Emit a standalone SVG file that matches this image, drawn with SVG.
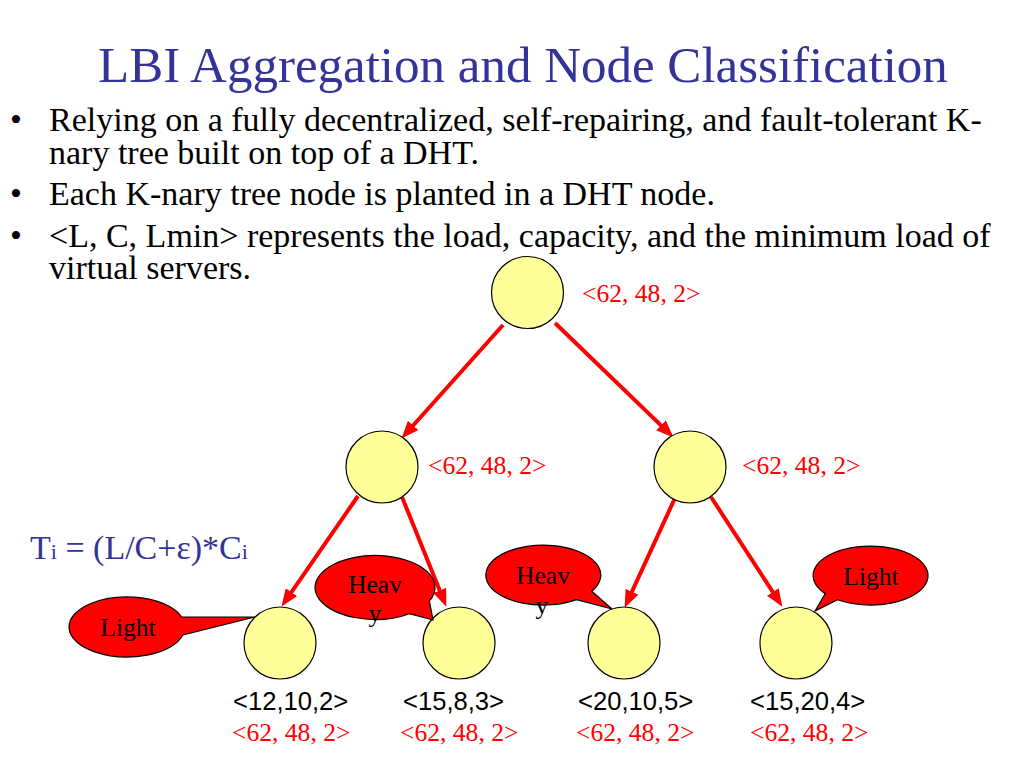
<svg xmlns="http://www.w3.org/2000/svg" width="1024" height="768" viewBox="0 0 1024 768">
<defs>
<style>
.title{font-family:"Liberation Serif","Times New Roman",serif;font-size:51px;fill:#333399}
.body{font-family:"Liberation Serif","Times New Roman",serif;font-size:34px;fill:#000}
.formula{font-family:"Liberation Serif","Times New Roman",serif;font-size:34px;fill:#333399}
.red{font-family:"Liberation Serif","Times New Roman",serif;font-size:25.6px;fill:#FF0000}
.blk{font-family:"Liberation Sans",Arial,sans-serif;font-size:25.6px;fill:#000}
.call{font-family:"Liberation Serif","Times New Roman",serif;font-size:25.6px;fill:#000;text-anchor:middle}
.node{fill:#FFFF99;stroke:#000;stroke-width:1.2}
.bubble{fill:#FF0000;stroke:#000;stroke-width:1.2}
.edge{stroke:#FF0000;stroke-width:4;fill:none;marker-end:url(#ah)}
</style>
<marker id="ah" viewBox="0 0 10 8" refX="5" refY="4" markerWidth="4.4" markerHeight="3.5" orient="auto" markerUnits="strokeWidth">
<path d="M0,0 L10,4 L0,8 z" fill="#FF0000"/>
</marker>
</defs>
<rect width="1024" height="768" fill="#FFFFFF"/>
<text class="title" x="98" y="82">LBI Aggregation and Node Classification</text>
<g id="bullets">
<text class="body" x="10" y="131">•</text>
<text class="body"><tspan x="49" y="131">Relying on a fully decentralized, self-repairing, and fault-tolerant K-</tspan><tspan x="49" y="164">nary tree built on top of a DHT.</tspan></text>
<text class="body" x="10" y="205">•</text>
<text class="body" x="49" y="205">Each K-nary tree node is planted in a DHT node.</text>
<text class="body" x="10" y="247">•</text>
<text class="body"><tspan x="49" y="247">&lt;L, C, Lmin&gt; represents the load, capacity, and the minimum load of</tspan><tspan x="49" y="279">virtual servers.</tspan></text>
</g>
<text class="formula" x="30" y="559">T<tspan font-size="22">i</tspan> = (L/C+ε)*C<tspan font-size="22">i</tspan></text>
<g id="connectors">
<path class="edge" d="M503,325 L407.3,432"/>
<path class="edge" d="M555,323 L667.2,431.4"/>
<path class="edge" d="M358,496 L286.5,599.4"/>
<path class="edge" d="M402,497 L443,598.6"/>
<path class="edge" d="M675,498 L628.3,599.7"/>
<path class="edge" d="M711,497 L777.6,599.3"/>
</g>
<g id="root">
<circle class="node" cx="527.5" cy="292.5" r="36"/>
<text class="red" x="582" y="302">&lt;62, 48, 2&gt;</text>
</g>
<g id="midLeft">
<circle class="node" cx="382" cy="467" r="36"/>
<text class="red" x="428" y="474">&lt;62, 48, 2&gt;</text>
</g>
<g id="midRight">
<circle class="node" cx="690" cy="467" r="36"/>
<text class="red" x="742" y="474">&lt;62, 48, 2&gt;</text>
</g>
<g id="leaf1">
<circle class="node" cx="280" cy="643" r="36"/>
<text class="blk" x="233" y="710">&lt;12,10,2&gt;</text>
<text class="red" x="232" y="741">&lt;62, 48, 2&gt;</text>
</g>
<g id="leaf2">
<circle class="node" cx="459" cy="643" r="36"/>
<text class="blk" x="403" y="710">&lt;15,8,3&gt;</text>
<text class="red" x="400" y="741">&lt;62, 48, 2&gt;</text>
</g>
<g id="leaf3">
<circle class="node" cx="624" cy="643" r="36"/>
<text class="blk" x="578" y="710">&lt;20,10,5&gt;</text>
<text class="red" x="576" y="741">&lt;62, 48, 2&gt;</text>
</g>
<g id="leaf4">
<circle class="node" cx="796" cy="643" r="36"/>
<text class="blk" x="750" y="710">&lt;15,20,4&gt;</text>
<text class="red" x="750" y="741">&lt;62, 48, 2&gt;</text>
</g>
<g id="calloutLight1">
<path class="bubble" d="M181.7,617 L255,617 L182.9,635 A58 30 0 1 1 181.7,617 Z"/>
<text class="call" x="128" y="636">Light</text>
</g>
<g id="calloutHeavy1">
<path class="bubble" d="M429.4,601 L433,620 L409.4,613.7 A60 32 0 1 1 429.4,601 Z"/>
<text class="call"><tspan x="375" y="593">Heav</tspan><tspan x="375" y="622">y</tspan></text>
</g>
<g id="calloutHeavy2">
<path class="bubble" d="M591.7,591.3 L612,609 L576.5,599.6 A57.5 30 0 1 1 591.7,591.3 Z"/>
<text class="call"><tspan x="543" y="584">Heav</tspan><tspan x="542" y="614">y</tspan></text>
</g>
<g id="calloutLight2">
<path class="bubble" d="M837.5,599.7 L815,611 L825.2,593.7 A57.5 29.5 0 1 1 837.5,599.7 Z"/>
<text class="call" x="871" y="585">Light</text>
</g>
</svg>
